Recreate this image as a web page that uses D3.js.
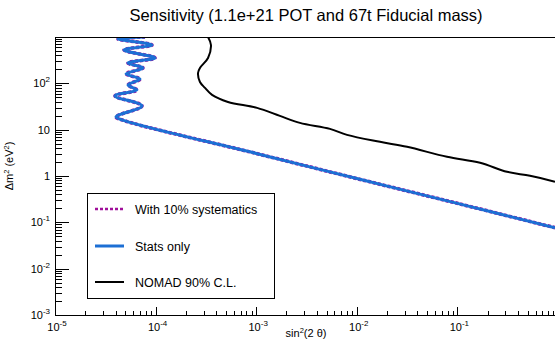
<!DOCTYPE html>
<html lang="en">
<head>
    <meta charset="UTF-8">
    <title>Sensitivity</title>
    <script src="https://d3js.org/d3.v7.min.js"></script>
    <style>
        body { margin: 0; background: #fff; font-family: "Liberation Sans", Arial, sans-serif; }
        svg text { fill: #000; }
    </style>
</head>
<body>
    <svg width="555" height="342"></svg>
    <script>
        // Stats only contour (sin^2 2theta, dm^2)
        const sin2Stats = [7.85e-5, 4.23e-5, 9.21e-5, 4.85e-5, 9.86e-5, 5.32e-5, 7.49e-5, 5.08e-5, 7.0e-5,
                           5.32e-5, 6.53e-5, 3.95e-5, 7.32e-5, 4.04e-5, 4.96e-5, 1e-3, 1e-2, 1e-1, 0.933];
        const dm2Stats  = [1000, 906, 673, 525, 353, 275, 215, 160, 124,
                           92, 72, 53.5, 32.6, 18.9, 15.5, 3.07, 0.88, 0.257, 0.0766];
        // With 10% systematics (overlaps the stats-only curve)
        const sin2Syst = sin2Stats.slice();
        const dm2Syst  = dm2Stats.slice();
        // NOMAD 90% C.L.
        const sin2Nomad = [3.32e-4, 3.55e-4, 3.32e-4, 2.76e-4, 2.64e-4, 2.76e-4, 3.10e-4, 3.64e-4, 5.24e-4,
                           1.02e-3, 1.72e-3, 2.72e-3, 5.41e-3, 7.99e-3, 1.70e-2, 3.16e-2, 7.88e-2, 0.168, 0.311, 0.527, 0.933];
        const dm2Nomad  = [1000, 673, 353, 215, 167.5, 107, 79.6, 56.2, 39.7,
                           29.5, 19.8, 14.0, 10.4, 7.73, 5.46, 4.26, 2.59, 1.93, 1.23, 1.01, 0.75];

        const xTicks = [1e-5, 1e-4, 1e-3, 1e-2, 1e-1];
        const xTickLabels = [["10", "-5"], ["10", "-4"], ["10", "-3"], ["10", "-2"], ["10", "-1"]];
        const yTicks = [1e-3, 1e-2, 1e-1, 1, 10, 100];
        const yTickLabels = [["10", "-3"], ["10", "-2"], ["10", "-1"], ["1", ""], ["10", ""], ["10", "2"]];

        const legendItems = ["With 10% systematics", "Stats only", "NOMAD 90% C.L."];

        const frame = {left: 55, top: 37, bottom: 315, right: 558};

        const svg = d3.select("svg");

        const x = d3.scaleLog().domain([1e-5, 1]).range([frame.left, frame.right]);
        const y = d3.scaleLog().domain([1e-3, 1e3]).range([frame.bottom, frame.top]);

        // Title
        svg.append("text")
            .attr("x", 306).attr("y", 21)
            .attr("text-anchor", "middle")
            .style("font-size", "16.5px")
            .text("Sensitivity (1.1e+21 POT and 67t Fiducial mass)");

        svg.append("clipPath").attr("id", "clip")
            .append("rect").attr("x", frame.left).attr("y", frame.top)
            .attr("width", frame.right - frame.left).attr("height", frame.bottom - frame.top);

        const plot = svg.append("g").attr("clip-path", "url(#clip)");

        const line = d3.line()
            .x(d => x(d[0])).y(d => y(d[1]))
            .curve(d3.curveCatmullRom.alpha(0.5));

        const statsPts = d3.zip(sin2Stats, dm2Stats);
        const systPts = d3.zip(sin2Syst, dm2Syst);
        const nomadPts = d3.zip(sin2Nomad, dm2Nomad);

        plot.append("path").datum(nomadPts)
            .attr("d", line).attr("fill", "none")
            .attr("stroke", "#000").attr("stroke-width", 2);

        plot.append("path").datum(systPts)
            .attr("d", line).attr("fill", "none")
            .attr("stroke", "#a0109a").attr("stroke-width", 3.6)
            .attr("stroke-dasharray", "3,2");

        plot.append("path").datum(statsPts)
            .attr("d", line).attr("fill", "none")
            .attr("stroke", "#1c6fd4").attr("stroke-width", 3);

        // Axes (ROOT style, ticks inside)
        const axes = svg.append("g").attr("stroke", "#000").attr("stroke-width", 1);
        axes.append("line").attr("x1", frame.left + 0.5).attr("x2", frame.left + 0.5)
            .attr("y1", frame.top).attr("y2", frame.bottom + 0.5);
        axes.append("line").attr("x1", frame.left).attr("x2", frame.right)
            .attr("y1", frame.bottom + 0.5).attr("y2", frame.bottom + 0.5);
        axes.append("line").attr("x1", frame.left).attr("x2", frame.right)
            .attr("y1", frame.top + 0.5).attr("y2", frame.top + 0.5);

        const minorX = [];
        for (let e = -5; e < 0; e++) for (let k = 2; k <= 9; k++) minorX.push(k * Math.pow(10, e));
        const minorY = [];
        for (let e = -3; e < 3; e++) for (let k = 2; k <= 9; k++) minorY.push(k * Math.pow(10, e));

        axes.selectAll("line.xminor").data(minorX).enter().append("line")
            .attr("x1", d => Math.round(x(d)) + 0.5).attr("x2", d => Math.round(x(d)) + 0.5)
            .attr("y1", frame.bottom).attr("y2", frame.bottom - 4);
        axes.selectAll("line.xmajor").data(xTicks).enter().append("line")
            .attr("x1", d => Math.round(x(d)) + 0.5).attr("x2", d => Math.round(x(d)) + 0.5)
            .attr("y1", frame.bottom).attr("y2", frame.bottom - 8);
        axes.selectAll("line.yminor").data(minorY).enter().append("line")
            .attr("y1", d => Math.round(y(d)) + 0.5).attr("y2", d => Math.round(y(d)) + 0.5)
            .attr("x1", frame.left).attr("x2", frame.left + 7);
        axes.selectAll("line.ymajor").data(yTicks).enter().append("line")
            .attr("y1", d => Math.round(y(d)) + 0.5).attr("y2", d => Math.round(y(d)) + 0.5)
            .attr("x1", frame.left).attr("x2", frame.left + 14);

        // Tick labels
        function powLabel(sel, lab) {
            sel.append("tspan").text(lab[0]);
            if (lab[1]) sel.append("tspan").attr("dy", -5).style("font-size", "8px").text(lab[1]);
        }
        xTicks.forEach((t, i) => {
            const tx = svg.append("text")
                .attr("x", x(t) + 2).attr("y", 331)
                .attr("text-anchor", "middle")
                .style("font-size", "11px");
            powLabel(tx, xTickLabels[i]);
        });
        yTicks.forEach((t, i) => {
            const tx = svg.append("text")
                .attr("x", 50).attr("y", y(t) + 4)
                .attr("text-anchor", "end")
                .style("font-size", "11px");
            powLabel(tx, yTickLabels[i]);
        });

        // Axis titles
        const xt = svg.append("text").attr("x", 306).attr("y", 337)
            .attr("text-anchor", "middle").style("font-size", "11px");
        xt.append("tspan").text("sin");
        xt.append("tspan").attr("dy", -4).style("font-size", "7.5px").text("2");
        xt.append("tspan").attr("dy", 4).text("(2 θ)");

        const yt = svg.append("text")
            .attr("transform", "translate(13,166) rotate(-90)")
            .attr("text-anchor", "middle").style("font-size", "11px");
        yt.append("tspan").text("Δm");
        yt.append("tspan").attr("dy", -4).style("font-size", "7.5px").text("2");
        yt.append("tspan").attr("dy", 4).text(" (eV");
        yt.append("tspan").attr("dy", -4).style("font-size", "7.5px").text("2");
        yt.append("tspan").attr("dy", 4).text(")");

        // Legend
        const lg = svg.append("g");
        lg.append("rect").attr("x", 87.5).attr("y", 193.5).attr("width", 187).attr("height", 105)
            .attr("fill", "#fff").attr("stroke", "#000").attr("stroke-width", 1);
        const rowY = [209, 246, 282];
        const styles = [
            {stroke: "#a0109a", w: 2.5, dash: "3,2"},
            {stroke: "#1c6fd4", w: 3, dash: null},
            {stroke: "#000", w: 2, dash: null}
        ];
        legendItems.forEach((name, i) => {
            lg.append("line").attr("x1", 95).attr("x2", 124)
                .attr("y1", rowY[i]).attr("y2", rowY[i])
                .attr("stroke", styles[i].stroke).attr("stroke-width", styles[i].w)
                .attr("stroke-dasharray", styles[i].dash);
            lg.append("text").attr("x", 135).attr("y", rowY[i] + 4.5)
                .style("font-size", "12.5px").text(name);
        });
    </script>
</body>
</html>
